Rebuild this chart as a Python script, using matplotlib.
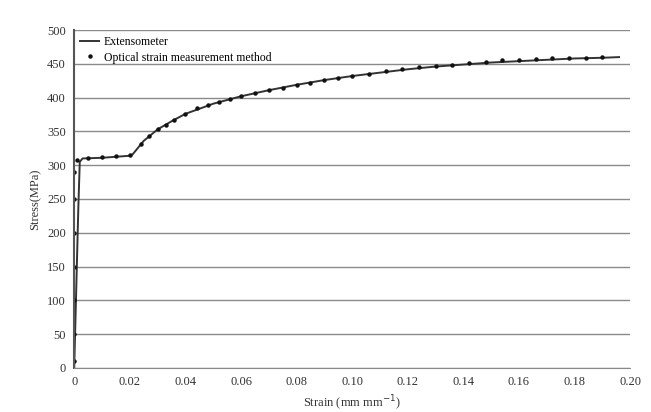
import matplotlib
matplotlib.use("Agg")
import matplotlib.pyplot as plt

plt.rcParams['font.family'] = ['Liberation Serif', 'DejaVu Serif']

# Extensometer curve
ext_strain = [0.0, 0.0005, 0.001, 0.0015, 0.002, 0.003, 0.010, 0.020, 0.021,
              0.025, 0.030, 0.035, 0.040, 0.050, 0.060, 0.070, 0.080, 0.090,
              0.100, 0.110, 0.120, 0.130, 0.140, 0.150, 0.160, 0.170, 0.180,
              0.190, 0.196]
ext_stress = [0, 80, 160, 240, 305, 310, 311, 314, 316,
              336, 353, 365, 376, 391, 402, 411, 419, 426,
              432, 437, 442, 446, 449, 452, 454, 456, 458,
              459, 460]

# Optical strain measurement points
opt_strain = [0.0, 0.0, 0.0, 0.0, 0.0, 0.0, 0.0, 0.001, 0.005, 0.010, 0.015,
              0.020, 0.024, 0.027, 0.030, 0.033, 0.036, 0.040, 0.044, 0.048,
              0.052, 0.056, 0.060, 0.065, 0.070, 0.075, 0.080, 0.085, 0.090,
              0.095, 0.100, 0.106, 0.112, 0.118, 0.124, 0.130, 0.136, 0.142,
              0.148, 0.154, 0.160, 0.166, 0.172, 0.178, 0.184, 0.190]
opt_stress = [10, 50, 100, 150, 200, 250, 290, 308, 311, 312, 313,
              315, 331, 343, 353, 360, 367, 376, 384, 389,
              394, 398, 402, 407, 411, 415, 419, 422, 426,
              429, 432, 435, 439, 442, 445, 447, 449, 451,
              453, 455, 456, 457, 458, 459, 459, 460]

x_ticks = [0, 0.02, 0.04, 0.06, 0.08, 0.10, 0.12, 0.14, 0.16, 0.18, 0.20]
x_ticklabels = ['0', '0.02', '0.04', '0.06', '0.08', '0.10', '0.12', '0.14',
                '0.16', '0.18', '0.20']
y_ticks = [0, 50, 100, 150, 200, 250, 300, 350, 400, 450, 500]

fig = plt.figure(figsize=(6.51, 4.12), dpi=100)
ax = fig.add_axes([0.114, 0.107, 0.854, 0.82])

ax.plot(ext_strain, ext_stress, color='#333333', lw=1.4, label='Extensometer')
ax.plot(opt_strain, opt_stress, ls='none', marker='o', ms=2.2,
        color='#111111', label='Optical strain measurement method')

ax.set_xlim(0, 0.20)
ax.set_ylim(0, 500)
ax.set_xticks(x_ticks)
ax.set_xticklabels(x_ticklabels)
ax.set_yticks(y_ticks)
ax.yaxis.grid(True, color='#8a8a8a', lw=1.0)
ax.set_axisbelow(True)
ax.tick_params(length=0, labelsize=9, colors='#333333', pad=6)
for s in ['top', 'right']:
    ax.spines[s].set_visible(False)
ax.spines['left'].set_color('#555555')
ax.spines['left'].set_linewidth(1.5)
ax.spines['bottom'].set_color('#8a8a8a')

ax.set_xlabel('Strain (mm mm$^{-1}$)', fontsize=9, color='#333333')
ax.set_ylabel('Stress(MPa)', fontsize=9, color='#333333')

ax.legend(loc='upper left', frameon=False, fontsize=8.5, handlelength=1.6,
          borderaxespad=0.1, labelspacing=0.3, handletextpad=0.4)

fig.savefig('out.png', dpi=100)
